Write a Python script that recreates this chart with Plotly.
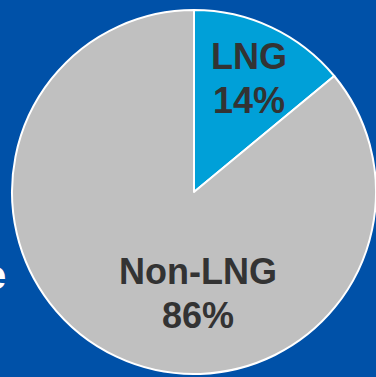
import plotly.graph_objects as go
import math

labels = ["LNG", "Non-LNG"]
values = [14, 86]
pct_text = ["14%", "86%"]
colors = ["#00A0D8", "#C0C0C0"]

W, H = 376, 377
cx, cy, r = 194, 192, 182  # pixel center / radius of the pie

fig = go.Figure(go.Pie(
    labels=labels, values=values, sort=False, direction="clockwise", rotation=0,
    marker=dict(colors=colors, line=dict(color="white", width=2)),
    textinfo="none", hoverinfo="label+percent", showlegend=False,
    domain=dict(x=[(cx - r) / W, min(1, (cx + r) / W)], y=[1 - (cy + r) / H, 1 - (cy - r) / H]),
))

# label positions (pixels) for each slice
label_pos = [(249, 57, 100), (198, 271, 315)]
anns = []
for lab, pt, (px, py1, py2) in zip(labels, pct_text, label_pos):
    for txt, py in ((lab, py1), (pt, py2)):
        anns.append(dict(text=f"<b>{txt}</b>", x=px / W, y=1 - py / H, xref="paper", yref="paper",
                         xanchor="center", yanchor="middle", showarrow=False,
                         font=dict(family="Liberation Sans, Arial", size=36, color="#333333")))
# fragment of background text at left edge
anns.append(dict(text="<b>e</b>", x=8 / W, y=1 - 275 / H, xref="paper", yref="paper",
                 xanchor="right", yanchor="middle", showarrow=False,
                 font=dict(family="Liberation Sans, Arial", size=40, color="white")))

fig.update_layout(width=W, height=H, margin=dict(l=0, r=0, t=0, b=0),
                  paper_bgcolor="#0051A8", plot_bgcolor="#0051A8", annotations=anns)
fig.write_html("out.html")
